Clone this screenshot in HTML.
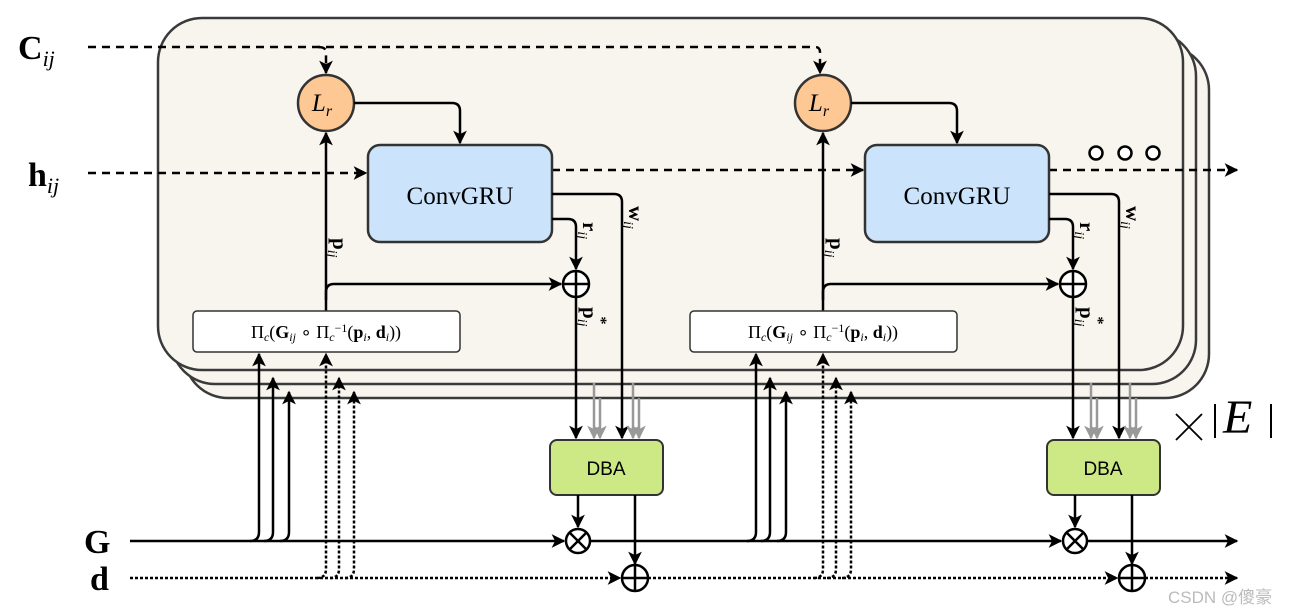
<!DOCTYPE html>
<html><head><meta charset="utf-8"><style>
html,body{margin:0;padding:0;background:#fff;}
svg{display:block;}
text{font-family:"Liberation Serif",serif;}
</style></head><body>
<svg width="1312" height="616" viewBox="0 0 1312 616" xmlns="http://www.w3.org/2000/svg">
<defs>
<marker id="a" viewBox="0 0 10 10" refX="9" refY="5" markerWidth="5.5" markerHeight="5.5" orient="auto"><path d="M0,0L10,5L0,10L2.5,5z" fill="#000"/></marker>
<marker id="g" viewBox="0 0 10 10" refX="9" refY="5" markerWidth="5.5" markerHeight="5.5" orient="auto"><path d="M0,0L10,5L0,10L2.5,5z" fill="#999"/></marker>
<g id="blk">
  <circle cx="326" cy="103" r="28" fill="#fdc894" stroke="#333" stroke-width="2.5"/>
  <text x="322" y="111" font-size="25" font-style="italic" text-anchor="middle">L<tspan font-size="16" dy="5">r</tspan></text>
  <path d="M354,103H452q8,0 8,8V143" fill="none" stroke="#000" stroke-width="2.5" marker-end="url(#a)"/>
  <rect x="368" y="145" width="184" height="97" rx="12" fill="#cce4fb" stroke="#333" stroke-width="2.5"/>
  <text x="460" y="204" font-size="25" text-anchor="middle">ConvGRU</text>
  <path d="M552,219H568q8,0 8,8V269" fill="none" stroke="#000" stroke-width="2.5" marker-end="url(#a)"/>
  <path d="M552,194H614q8,0 8,8V438" fill="none" stroke="#000" stroke-width="2.5" marker-end="url(#a)"/>
  <path d="M326,311V133" fill="none" stroke="#000" stroke-width="2.5" marker-end="url(#a)"/>
  <path d="M326,300V292q0,-8 8,-8H561" fill="none" stroke="#000" stroke-width="2.5" marker-end="url(#a)"/>
  <circle cx="576" cy="284" r="13" fill="#fff" stroke="#000" stroke-width="2.5"/>
  <path d="M563,284H589M576,271V297" stroke="#000" stroke-width="2.5"/>
  <path d="M576,297V438" stroke="#000" stroke-width="2.5" marker-end="url(#a)"/>
  <g stroke="#999" stroke-width="2.5">
  <path d="M594,383V438" marker-end="url(#g)"/><path d="M600,398V438" marker-end="url(#g)"/>
  <path d="M633,383V438" marker-end="url(#g)"/><path d="M639,398V438" marker-end="url(#g)"/>
  </g>
  <rect x="193" y="311" width="267" height="41" rx="4" fill="#fff" stroke="#333" stroke-width="1.5"/>
  <text x="326" y="338" font-size="18" text-anchor="middle">Π<tspan font-size="12" font-style="italic" dy="3">c</tspan><tspan dy="-3">(</tspan><tspan font-weight="bold">G</tspan><tspan font-size="12" font-style="italic" dy="3">ij</tspan><tspan dy="-3"> ∘ Π</tspan><tspan font-size="12" font-style="italic" dy="3">c</tspan><tspan font-size="12" dy="-9">−1</tspan><tspan dy="6">(</tspan><tspan font-weight="bold">p</tspan><tspan font-size="12" font-style="italic" dy="3">i</tspan><tspan dy="-3">, </tspan><tspan font-weight="bold">d</tspan><tspan font-size="12" font-style="italic" dy="3">i</tspan><tspan dy="-3">))</tspan></text>
  <text transform="translate(333,238) rotate(90)" font-size="21" font-weight="bold">p<tspan font-size="14" font-style="italic" font-weight="normal" dy="5">ij</tspan></text>
  <text transform="translate(583,222) rotate(90)" font-size="21" font-weight="bold">r<tspan font-size="14" font-style="italic" font-weight="normal" dy="5">ij</tspan></text>
  <text transform="translate(629,206) rotate(90)" font-size="21" font-weight="bold">w<tspan font-size="14" font-style="italic" font-weight="normal" dy="5">ij</tspan></text>
  <text transform="translate(583,307) rotate(90)" font-size="21" font-weight="bold">p<tspan font-size="14" font-style="italic" font-weight="normal" dy="5">ij</tspan><tspan font-size="16" dx="-10" dy="-18">*</tspan></text>
  <rect x="550" y="440" width="113" height="55" rx="7" fill="#cde985" stroke="#333" stroke-width="2"/>
  <text x="606" y="475" font-size="19" text-anchor="middle" style="font-family:'Liberation Sans',sans-serif">DBA</text>
  <path d="M578,495V527" stroke="#000" stroke-width="2.5" marker-end="url(#a)"/>
  <path d="M635,495V564" stroke="#000" stroke-width="2.5" marker-end="url(#a)"/>
  <g fill="none" stroke="#000" stroke-width="2.5">
  <path d="M250,541q9,0 9,-9V354" marker-end="url(#a)"/>
  <path d="M264,541q9,0 9,-9V378" marker-end="url(#a)"/>
  <path d="M280,541q9,0 9,-9V392" marker-end="url(#a)"/>
  </g>
  <g fill="none" stroke="#000" stroke-width="2.5" stroke-dasharray="3,2">
  <path d="M317,578q9,0 9,-9V354" marker-end="url(#a)"/>
  <path d="M330,578q9,0 9,-9V378" marker-end="url(#a)"/>
  <path d="M345,578q9,0 9,-9V392" marker-end="url(#a)"/>
  </g>
  <circle cx="578" cy="541" r="12" fill="#fff" stroke="#000" stroke-width="2.5"/>
  <path d="M570,533L586,549M586,533L570,549" stroke="#000" stroke-width="2.5"/>
  <circle cx="635" cy="578" r="13" fill="#fff" stroke="#000" stroke-width="2.5"/>
  <path d="M622,578H648M635,565V591" stroke="#000" stroke-width="2.5"/>
</g>
</defs>
<g stroke="#3a3a3a" stroke-width="2.5" fill="#f7f5ee">
<rect x="184" y="46" width="1025" height="352" rx="44"/>
<rect x="171" y="32" width="1025" height="352" rx="44"/>
<rect x="158" y="18" width="1025" height="352" rx="44"/>
</g>
<text x="18" y="59" font-size="34" font-weight="bold">C<tspan font-size="22" font-style="italic" font-weight="normal" dy="7">ij</tspan></text>
<text x="28" y="186" font-size="34" font-weight="bold">h<tspan font-size="22" font-style="italic" font-weight="normal" dy="7">ij</tspan></text>
<text x="84" y="553" font-size="34" font-weight="bold">G</text>
<text x="90" y="590" font-size="34" font-weight="bold">d</text>
<g fill="none" stroke="#000" stroke-width="2.5" stroke-dasharray="8,6">
<path d="M88,47H815q5,0 5,5V73" marker-end="url(#a)"/>
<path d="M318,47q8,0 8,5V73" marker-end="url(#a)"/>
<path d="M88,173H366" marker-end="url(#a)"/>
<path d="M552,170H863" marker-end="url(#a)"/>
<path d="M1049,170H1237" marker-end="url(#a)"/>
</g>
<path d="M130,541H564" stroke="#000" stroke-width="2.5" marker-end="url(#a)"/>
<path d="M590,541H1061" stroke="#000" stroke-width="2.5" marker-end="url(#a)"/>
<path d="M1087,541H1237" stroke="#000" stroke-width="2.5" marker-end="url(#a)"/>
<path d="M130,578H620" stroke="#000" stroke-width="2.5" stroke-dasharray="3,2" marker-end="url(#a)"/>
<path d="M648,578H1117" stroke="#000" stroke-width="2.5" stroke-dasharray="3,2" marker-end="url(#a)"/>
<path d="M1145,578H1237" stroke="#000" stroke-width="2.5" stroke-dasharray="3,2" marker-end="url(#a)"/>
<use href="#blk"/>
<use href="#blk" transform="translate(497,0)"/>
<g fill="#fff" stroke="#000" stroke-width="2.5">
<circle cx="1096" cy="153" r="6.5"/><circle cx="1125" cy="153" r="6.5"/><circle cx="1153" cy="153" r="6.5"/>
</g>
<path d="M1176,414L1202,440M1202,414L1176,440" stroke="#000" stroke-width="1.8"/>
<path d="M1215,404V438M1271,404V438" stroke="#000" stroke-width="2"/>
<text x="1223" y="433" font-size="48" font-style="italic">E</text>
<text x="1168" y="603" font-size="17" fill="#bbb" style="font-family:'Liberation Sans','Noto Sans CJK SC',sans-serif">CSDN @傻豪</text>
</svg>
</body></html>
